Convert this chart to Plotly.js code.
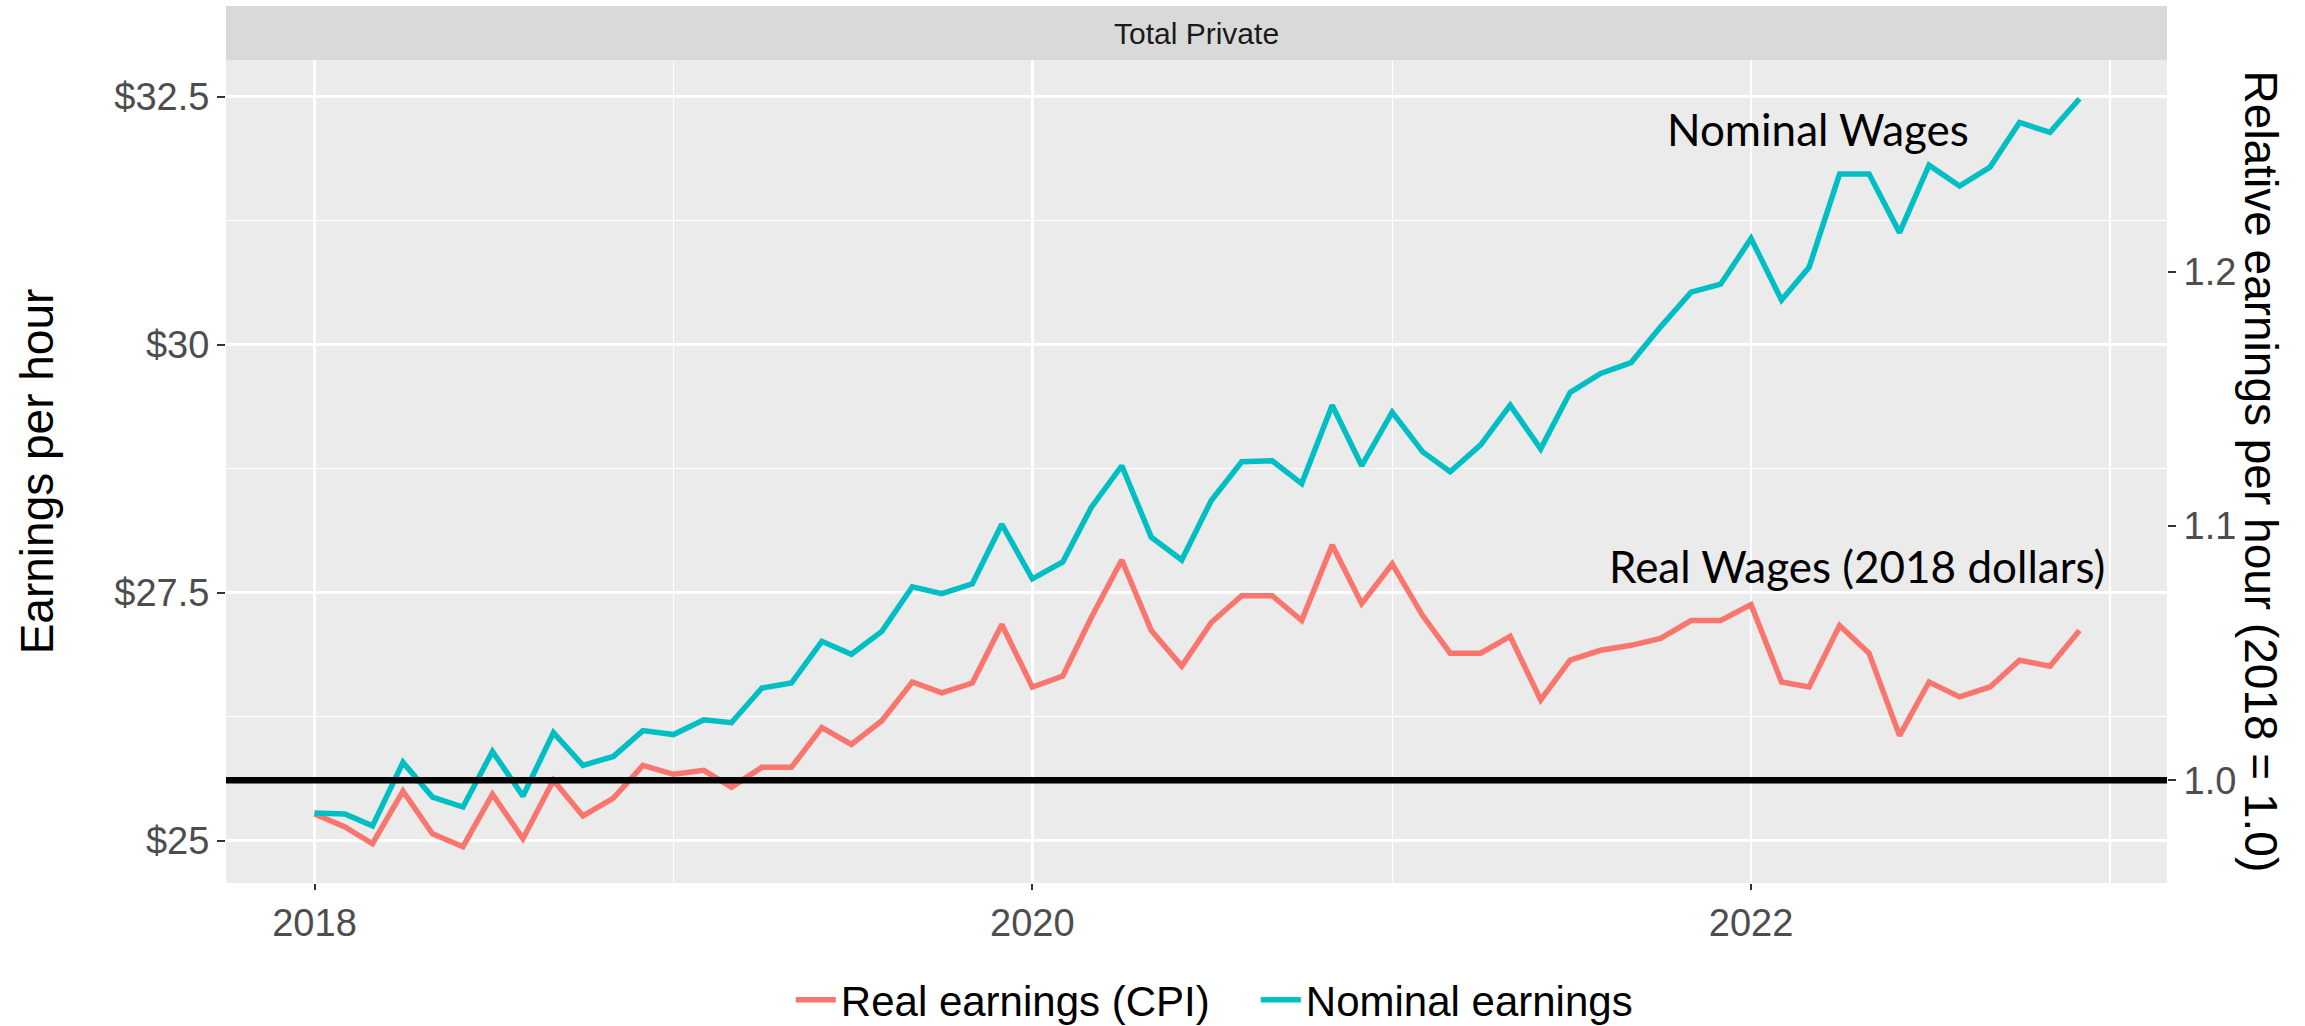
<!DOCTYPE html>
<html>
<head>
<meta charset="utf-8">
<script src="https://cdn.plot.ly/plotly-3.0.1.min.js"></script>
<style>html,body{margin:0;padding:0;background:#fff;}#chart{width:2305px;height:1026px;}</style>
</head>
<body>
<div id="chart"></div>
<script>
// Months (first of month), Jan 2018 - Dec 2022
const months = [
 '2018-01-01','2018-02-01','2018-03-01','2018-04-01','2018-05-01','2018-06-01','2018-07-01','2018-08-01','2018-09-01','2018-10-01','2018-11-01','2018-12-01',
 '2019-01-01','2019-02-01','2019-03-01','2019-04-01','2019-05-01','2019-06-01','2019-07-01','2019-08-01','2019-09-01','2019-10-01','2019-11-01','2019-12-01',
 '2020-01-01','2020-02-01','2020-03-01','2020-04-01','2020-05-01','2020-06-01','2020-07-01','2020-08-01','2020-09-01','2020-10-01','2020-11-01','2020-12-01',
 '2021-01-01','2021-02-01','2021-03-01','2021-04-01','2021-05-01','2021-06-01','2021-07-01','2021-08-01','2021-09-01','2021-10-01','2021-11-01','2021-12-01',
 '2022-01-01','2022-02-01','2022-03-01','2022-04-01','2022-05-01','2022-06-01','2022-07-01','2022-08-01','2022-09-01','2022-10-01','2022-11-01','2022-12-01'
];

// Nominal earnings per hour ($)
const nominalEarnings = [
 25.28,25.27,25.15,25.79,25.44,25.34,25.90,25.45,26.09,25.76,25.85,26.11,
 26.07,26.22,26.19,26.54,26.59,27.01,26.88,27.11,27.56,27.49,27.59,28.19,
 27.64,27.81,28.36,28.78,28.06,27.83,28.43,28.82,28.83,28.60,29.39,28.78,
 29.32,28.92,28.72,28.99,29.39,28.95,29.52,29.71,29.82,30.18,30.53,30.61,
 31.07,30.45,30.78,31.72,31.72,31.13,31.81,31.60,31.79,32.24,32.14,32.48
];

// Real earnings per hour (CPI-adjusted, 2018 dollars)
const realEarnings = [
 25.27,25.14,24.97,25.50,25.07,24.94,25.47,25.02,25.61,25.25,25.43,25.76,
 25.67,25.71,25.54,25.74,25.74,26.14,25.97,26.21,26.60,26.49,26.59,27.18,
 26.55,26.66,27.25,27.83,27.12,26.76,27.20,27.47,27.47,27.22,27.98,27.39,
 27.79,27.27,26.89,26.89,27.06,26.42,26.82,26.92,26.97,27.04,27.22,27.22,
 27.38,26.60,26.55,27.17,26.89,26.06,26.60,26.45,26.55,26.82,26.76,27.12
];

// 2018 reference wage (relative earnings = 1.0)
const baseWage = 25.61;

const seriesNames = ['Real earnings (CPI)', 'Nominal earnings'];
const seriesColors = ['#F8766D', '#00BFC4'];
const yTickVals = [25, 27.5, 30, 32.5];
const yTickText = ['$25', '$27.5', '$30', '$32.5'];
const y2TickVals = [1.0, 1.1, 1.2];
const y2TickText = ['1.0', '1.1', '1.2'];
const xTickVals = ['2018-01-01', '2020-01-01', '2022-01-01'];
const xTickText = ['2018', '2020', '2022'];

const yRange = [24.574, 32.87];
const xRange = ['2017-10-03', '2023-02-28'];

const tickFont = {family: 'Liberation Sans, Arial, sans-serif', size: 38, color: '#4D4D4D'};
const titleFont = {family: 'Liberation Sans, Arial, sans-serif', size: 46, color: '#000000'};

const traces = [
  {x: months, y: realEarnings, name: seriesNames[0], type: 'scatter', mode: 'lines',
   line: {color: seriesColors[0], width: 5.5}, hoverinfo: 'skip'},
  {x: months, y: nominalEarnings, name: seriesNames[1], type: 'scatter', mode: 'lines',
   line: {color: seriesColors[1], width: 5.5}, hoverinfo: 'skip'}
];

const layout = {
  width: 2305, height: 1026,
  margin: {l: 226, r: 138, t: 60, b: 143, pad: 0, autoexpand: false},
  paper_bgcolor: '#FFFFFF',
  plot_bgcolor: '#EBEBEB',
  font: {family: 'Liberation Sans, Arial, sans-serif'},
  showlegend: true,
  legend: {orientation: 'h', x: 0.291, xanchor: 'left', y: -0.142, yanchor: 'middle',
           font: {family: 'Liberation Sans, Arial, sans-serif', size: 42, color: '#000000'},
           bgcolor: 'rgba(0,0,0,0)', itemwidth: 40, traceorder: 'normal',
           entrywidth: 410, entrywidthmode: 'pixels'},
  xaxis: {
    type: 'date', range: xRange,
    tickmode: 'array', tickvals: xTickVals, ticktext: xTickText,
    ticks: 'outside', ticklen: 6, tickwidth: 2, tickcolor: '#333333',
    tickfont: tickFont,
    showgrid: true, gridcolor: '#FFFFFF', gridwidth: 2.5,
    minor: {dtick: 'M12', tick0: '2018-01-01', showgrid: true, gridcolor: '#FFFFFF', gridwidth: 1.2, ticks: ''},
    zeroline: false, showline: false
  },
  yaxis: {
    range: yRange,
    tickmode: 'array', tickvals: yTickVals, ticktext: yTickText,
    ticks: 'outside', ticklen: 8, tickwidth: 2, tickcolor: '#333333',
    tickfont: tickFont,
    showgrid: true, gridcolor: '#FFFFFF', gridwidth: 2.5,
    minor: {dtick: 1.25, tick0: 25, showgrid: true, gridcolor: '#FFFFFF', gridwidth: 1.2, ticks: ''},
    zeroline: false, showline: false,
    title: {text: 'Earnings per hour', font: titleFont, standoff: 46}
  },
  yaxis2: {
    overlaying: 'y', side: 'right',
    range: [yRange[0] / baseWage, yRange[1] / baseWage],
    tickmode: 'array', tickvals: y2TickVals, ticktext: y2TickText,
    ticks: 'outside', ticklen: 8, tickwidth: 2, tickcolor: '#333333',
    tickfont: tickFont,
    showgrid: false, zeroline: false, showline: false
  },
  shapes: [
    {type: 'rect', xref: 'paper', x0: 0, x1: 1, yref: 'paper', ysizemode: 'pixel', yanchor: 1, y0: 0, y1: 54,
     fillcolor: '#D9D9D9', line: {width: 0}, layer: 'below'},
    {type: 'line', xref: 'paper', x0: 0, x1: 1, yref: 'y2', y0: 1.0, y1: 1.0,
     line: {color: '#000000', width: 6.5}, layer: 'above'}
  ],
  annotations: [
    {text: 'Total Private', xref: 'paper', yref: 'paper', x: 0.5, y: 1, yshift: 27,
     xanchor: 'center', yanchor: 'middle', showarrow: false,
     font: {family: 'Liberation Sans, Arial, sans-serif', size: 30, color: '#1A1A1A'}},
    {text: 'Relative earnings per hour (2018 = 1.0)', xref: 'paper', yref: 'paper',
     x: 1.0489, y: 0.5, xanchor: 'center', yanchor: 'middle', textangle: 90, showarrow: false,
     font: titleFont},
    {text: 'Nominal Wages', xref: 'paper', yref: 'paper', x: 0.8202, y: 0.916,
     xanchor: 'center', yanchor: 'middle', showarrow: false,
     font: {family: 'Lato, Open Sans, sans-serif', size: 44, color: '#000000'}},
    {text: 'Real Wages (2018 dollars)', xref: 'paper', yref: 'paper', x: 0.8405, y: 0.385,
     xanchor: 'center', yanchor: 'middle', showarrow: false,
     font: {family: 'Lato, Open Sans, sans-serif', size: 44, color: '#000000'}}
  ]
};

Plotly.newPlot('chart', traces, layout, {displayModeBar: false, staticPlot: true});
</script>
</body>
</html>
